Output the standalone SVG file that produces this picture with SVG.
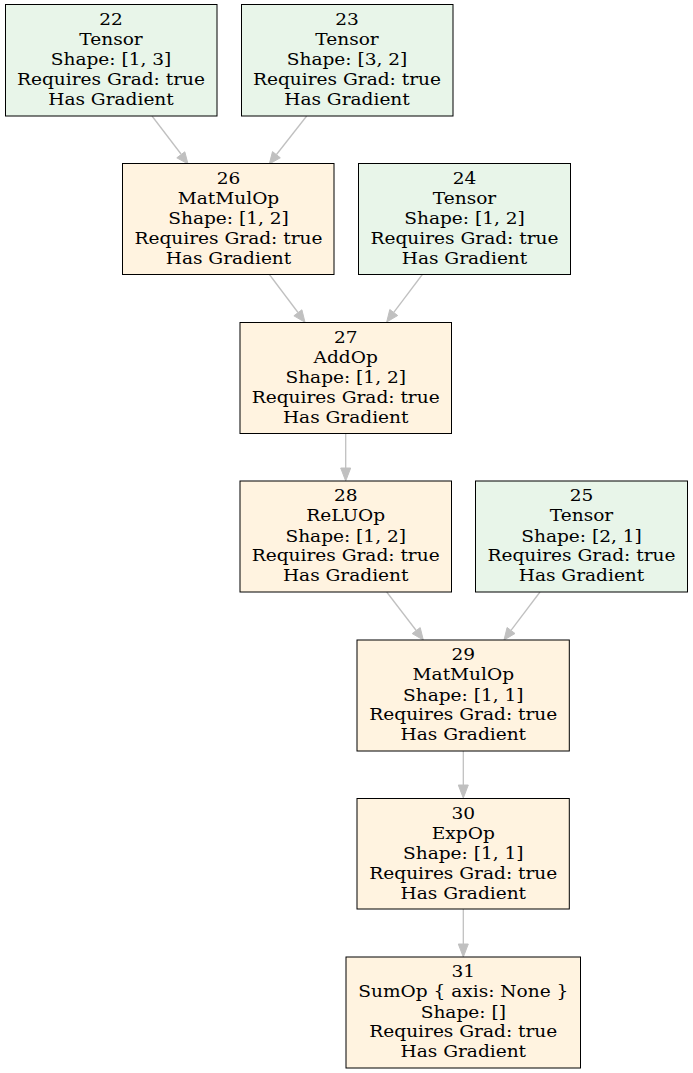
<svg xmlns="http://www.w3.org/2000/svg" width="693" height="1073" viewBox="0 0 693 1073">
<style>
.t rect{fill:#e8f5e9;stroke:#000;stroke-width:1}
.o rect{fill:#fff3e0;stroke:#000;stroke-width:1}
text{font-family:"DejaVu Serif",serif;font-size:16px;fill:#000;text-anchor:middle}
#edges line{stroke:#c0c0c0;stroke-width:1.3}
#edges polygon{fill:#c0c0c0;stroke:#c0c0c0;stroke-width:1}
</style>
<rect x="0" y="0" width="693" height="1073" fill="#fff"/>
<g id="edges">
<line x1="152" y1="116" x2="181" y2="154"/><polygon points="188,164 176.8,157.8 184.8,151.8"/>
<line x1="306.7" y1="116" x2="276.5" y2="154.5"/><polygon points="269.3,164 272.5,151.6 280.3,157.8"/>
<line x1="269" y1="274" x2="298" y2="312.5"/><polygon points="305,322.3 293.9,315.8 301.9,309.8"/>
<line x1="422.7" y1="274" x2="393.8" y2="312.4"/><polygon points="386.7,322 389.8,309.5 397.7,315.5"/>
<line x1="345.7" y1="433" x2="345.7" y2="469"/><polygon points="345.7,481 340.7,468 350.7,468"/>
<line x1="386.7" y1="592" x2="416.2" y2="630.5"/><polygon points="423.3,640 412.2,633.6 420.2,627.6"/>
<line x1="540" y1="592" x2="511" y2="630.4"/><polygon points="504,640 507.1,627.5 515,633.5"/>
<line x1="463.3" y1="751" x2="463.3" y2="786"/><polygon points="463.3,798 458.3,785 468.3,785"/>
<line x1="463.3" y1="909" x2="463.3" y2="945"/><polygon points="463.3,957 458.3,944 468.3,944"/>
</g>
<g id="n22" class="t"><rect x="5.5" y="4.5" width="211.5" height="111.5"/><g transform="translate(111,0) scale(1.16,1)"><text x="0" y="25">22</text><text x="0" y="45">Tensor</text><text x="0" y="65.3">Shape: [1, 3]</text><text x="0" y="85">Requires Grad: true</text><text x="0" y="104.7">Has Gradient</text></g></g>
<g id="n23" class="t"><rect x="241.5" y="4.5" width="211.5" height="111.5"/><g transform="translate(347,0) scale(1.16,1)"><text x="0" y="25">23</text><text x="0" y="45">Tensor</text><text x="0" y="65.3">Shape: [3, 2]</text><text x="0" y="85">Requires Grad: true</text><text x="0" y="104.7">Has Gradient</text></g></g>
<g id="n26" class="o"><rect x="122.5" y="163.5" width="211.5" height="111"/><g transform="translate(228.5,0) scale(1.16,1)"><text x="0" y="184">26</text><text x="0" y="204">MatMulOp</text><text x="0" y="224.3">Shape: [1, 2]</text><text x="0" y="244">Requires Grad: true</text><text x="0" y="263.7">Has Gradient</text></g></g>
<g id="n24" class="t"><rect x="358.5" y="163.5" width="212" height="111"/><g transform="translate(464.5,0) scale(1.16,1)"><text x="0" y="184">24</text><text x="0" y="204">Tensor</text><text x="0" y="224.3">Shape: [1, 2]</text><text x="0" y="244">Requires Grad: true</text><text x="0" y="263.7">Has Gradient</text></g></g>
<g id="n27" class="o"><rect x="240" y="322.5" width="211.5" height="111"/><g transform="translate(345.7,0) scale(1.16,1)"><text x="0" y="343">27</text><text x="0" y="363">AddOp</text><text x="0" y="383.3">Shape: [1, 2]</text><text x="0" y="403">Requires Grad: true</text><text x="0" y="422.7">Has Gradient</text></g></g>
<g id="n28" class="o"><rect x="240" y="481" width="211.5" height="111"/><g transform="translate(345.7,0) scale(1.16,1)"><text x="0" y="501.5">28</text><text x="0" y="521.5">ReLUOp</text><text x="0" y="541.8">Shape: [1, 2]</text><text x="0" y="561.5">Requires Grad: true</text><text x="0" y="581.2">Has Gradient</text></g></g>
<g id="n25" class="t"><rect x="475.5" y="481" width="212" height="111"/><g transform="translate(581.5,0) scale(1.16,1)"><text x="0" y="501.5">25</text><text x="0" y="521.5">Tensor</text><text x="0" y="541.8">Shape: [2, 1]</text><text x="0" y="561.5">Requires Grad: true</text><text x="0" y="581.2">Has Gradient</text></g></g>
<g id="n29" class="o"><rect x="357" y="640" width="212.3" height="111"/><g transform="translate(463.3,0) scale(1.16,1)"><text x="0" y="660.5">29</text><text x="0" y="680.5">MatMulOp</text><text x="0" y="700.8">Shape: [1, 1]</text><text x="0" y="720.5">Requires Grad: true</text><text x="0" y="740.2">Has Gradient</text></g></g>
<g id="n30" class="o"><rect x="357" y="798.5" width="212.3" height="110.5"/><g transform="translate(463.3,0) scale(1.16,1)"><text x="0" y="819">30</text><text x="0" y="839">ExpOp</text><text x="0" y="859.3">Shape: [1, 1]</text><text x="0" y="879">Requires Grad: true</text><text x="0" y="898.7">Has Gradient</text></g></g>
<g id="n31" class="o"><rect x="346" y="957" width="234.5" height="111"/><g transform="translate(463.3,0) scale(1.16,1)"><text x="0" y="977.5">31</text><text x="0" y="997.5">SumOp { axis: None }</text><text x="0" y="1017.8">Shape: []</text><text x="0" y="1037.5">Requires Grad: true</text><text x="0" y="1057.2">Has Gradient</text></g></g>
</svg>
